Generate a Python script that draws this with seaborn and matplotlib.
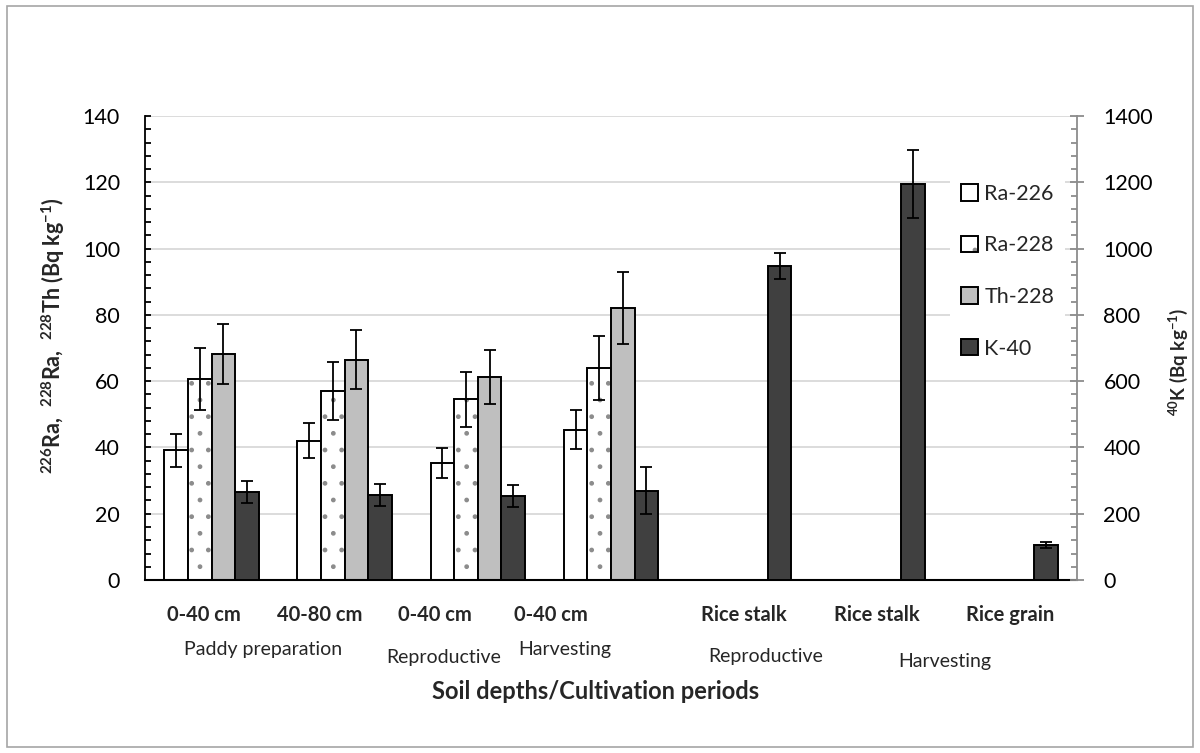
import numpy as np
import pandas as pd
import matplotlib
matplotlib.use("Agg")
import matplotlib.pyplot as plt
from matplotlib.ticker import MultipleLocator
from matplotlib.colors import to_rgba
from matplotlib.container import BarContainer
from matplotlib.patches import Rectangle
import seaborn as sns

# ---- data -------------------------------------------------------------
samples = ["0-40 cm", "40-80 cm", "0-40 cm", "0-40 cm",
           "Rice stalk", "Rice stalk", "Rice grain"]
periods = ["Paddy preparation", "Paddy preparation", "Reproductive", "Harvesting",
           "Reproductive", "Harvesting", "Harvesting"]

# activity concentrations (Bq/kg) for the soil samples, first four categories
ra226 = [39.2, 42.0, 35.3, 45.3]
ra226_err = [5.0, 5.3, 4.4, 5.9]
ra228 = [60.7, 57.0, 54.6, 64.0]
ra228_err = [9.4, 8.7, 8.3, 9.7]
th228 = [68.2, 66.4, 61.3, 82.1]
th228_err = [9.0, 8.9, 8.1, 10.8]

# K-40 (Bq/kg) for all seven categories, right axis
k40 = [266, 256, 253, 269, 947, 1195, 106]
k40_err = [33, 33, 33, 71, 40, 104, 9]

series = ["Ra-226", "Ra-228", "Th-228", "K-40"]
period_labels = ["Paddy preparation", "Reproductive", "Harvesting",
                 "Reproductive", "Harvesting"]

# ---- layout / style ---------------------------------------------------
tick_pos = [-0.06, 0.81, 1.68, 2.55, 4.0, 5.0, 6.0]
period_pos = [0.39, 1.74, 2.65, 4.16, 5.51]
period_y = [-0.150, -0.167, -0.150, -0.165, -0.176]

colors = {"Ra-226": "#ffffff", "Ra-228": "#ffffff",
          "Th-228": "#bfbfbf", "K-40": "#404040"}
DOT_GREY = "#8c8c8c"
GRID = "#d9d9d9"

sns.set_style("white")
plt.rcParams["font.family"] = ["Lato", "DejaVu Sans"]
plt.rcParams["mathtext.fontset"] = "custom"
plt.rcParams["mathtext.rm"] = "Lato"
plt.rcParams["mathtext.bf"] = "Lato:bold"
plt.rcParams["mathtext.it"] = "Lato:italic"

keys = [f"{s} | {p}" for s, p in zip(samples, periods)]

rows = []
for name, vals in (("Ra-226", ra226), ("Ra-228", ra228), ("Th-228", th228)):
    for k, v in zip(keys, vals):
        rows.append({"key": k, "series": name, "value": v})
soil = pd.DataFrame(rows)
pot = pd.DataFrame({"key": keys, "series": "K-40", "value": k40})

fig = plt.figure(figsize=(12, 7.53), dpi=100)
ax = fig.add_axes([0.1208, 0.2297, 0.7767, 0.6162])
ax2 = ax.twinx()

bar_kw = dict(x="key", y="value", hue="series", order=keys, hue_order=series,
              palette=colors, saturation=1, width=0.71, dodge=True, errorbar=None,
              edgecolor="black", linewidth=1.4, legend=False)
sns.barplot(data=soil, ax=ax, **bar_kw)
sns.barplot(data=pot, ax=ax2, **bar_kw)


def bar_groups(axis):
    return [c for c in axis.containers if isinstance(c, BarContainer) and len(c) > 0]


ra226_bars, ra228_bars, th228_bars = bar_groups(ax)
(k40_bars,) = bar_groups(ax2)

# dotted fill for Ra-228
for bar in ra228_bars:
    bar.set_hatch(".")
    if hasattr(bar, "set_hatchcolor"):
        bar.set_hatchcolor(DOT_GREY)
    else:
        bar._hatch_color = to_rgba(DOT_GREY)


def add_errors(axis, container, vals, errs):
    xc = [b.get_x() + b.get_width() / 2 for b in container]
    idx = [int(round(x)) for x in xc]
    axis.errorbar(xc, [vals[i] for i in idx], yerr=[errs[i] for i in idx],
                  fmt="none", ecolor="black", elinewidth=1.3,
                  capsize=4.5, capthick=1.3, zorder=5)


add_errors(ax, ra226_bars, ra226, ra226_err)
add_errors(ax, ra228_bars, ra228, ra228_err)
add_errors(ax, th228_bars, th228, th228_err)
add_errors(ax2, k40_bars, k40, k40_err)

# ---- axes ---------------------------------------------------------------
ax.set_xlim(-0.5, 6.5)
ax.set_ylim(0, 140)
ax2.set_ylim(0, 1400)

ax.yaxis.set_major_locator(MultipleLocator(20))
ax.yaxis.set_minor_locator(MultipleLocator(4))
ax2.yaxis.set_major_locator(MultipleLocator(200))
ax2.yaxis.set_minor_locator(MultipleLocator(40))

ax.yaxis.grid(True, which="major", color=GRID, lw=1.3)
ax.set_axisbelow(True)

for a in (ax, ax2):
    a.spines["top"].set_visible(False)
ax.spines["right"].set_visible(False)
ax2.spines["left"].set_visible(False)
ax2.spines["bottom"].set_visible(False)
ax.spines["left"].set_color("black")
ax.spines["left"].set_linewidth(1.3)
ax.spines["bottom"].set_color("black")
ax.spines["bottom"].set_linewidth(1.5)
ax2.spines["right"].set_color("#8c8c8c")
ax2.spines["right"].set_linewidth(1.3)

ax.tick_params(axis="y", which="major", direction="in", length=4.5, width=1.3,
               color="black", labelsize=15.5, pad=18, labelcolor="black")
ax.tick_params(axis="y", which="minor", direction="in", length=4.5, width=1.3,
               color="black")
ax2.tick_params(axis="y", which="major", direction="inout", length=10, width=1.3,
                color="#8c8c8c", labelsize=15.5, pad=14, labelcolor="black")
ax2.tick_params(axis="y", which="minor", direction="in", length=4.5, width=1.3,
                color="#8c8c8c")

ax.set_xticks(tick_pos)
ax.set_xticklabels(samples, fontsize=14.5, fontweight="bold")
ax.tick_params(axis="x", length=0, pad=18)

for lbl, xp, yp in zip(period_labels, period_pos, period_y):
    ax.text(xp, yp, lbl, transform=ax.get_xaxis_transform(), ha="center",
            va="center", fontsize=14)

ax.set_xlabel("Soil depths/Cultivation periods", fontsize=17, fontweight="bold")
ax.xaxis.set_label_coords((596 - 145) / 932, -0.241)
ax.xaxis.label.set_va("center")

ax.set_ylabel(r"$^{\mathbf{226}}$Ra,  $^{\mathbf{228}}$Ra,  $^{\mathbf{228}}$Th (Bq kg$^{\mathbf{-1}}$)",
              fontsize=15.5, fontweight="bold")
ax.yaxis.set_label_coords((53 - 145) / 932, 0.528)
ax.yaxis.label.set_va("center")
ax2.set_ylabel(r"$^{\mathbf{40}}$K (Bq kg$^{\mathbf{-1}}$)", fontsize=13.5,
               fontweight="bold", rotation=90)
ax2.yaxis.set_label_coords((1178 - 145) / 932, 0.47)
ax2.yaxis.label.set_va("center")

# ---- legend -------------------------------------------------------------
handles = [ra226_bars, ra228_bars, th228_bars, k40_bars]
leg = ax2.legend(handles, series, loc="upper left",
                 bbox_to_anchor=(950 / 1200, 1 - 173 / 753),
                 bbox_transform=fig.transFigure, frameon=True, fancybox=False,
                 facecolor="white", edgecolor="none", framealpha=1,
                 fontsize=15.5, handlelength=0.8, handleheight=0.8,
                 handletextpad=0.3, labelspacing=1.47, borderpad=0.5,
                 borderaxespad=0)
leg.set_zorder(10)

# chart-area border
fig.patches.append(Rectangle((0.006, 0.008), 0.988, 0.984, transform=fig.transFigure,
                             fill=False, edgecolor="#a6a6a6", lw=1.2))

fig.savefig("out.png", dpi=100)
